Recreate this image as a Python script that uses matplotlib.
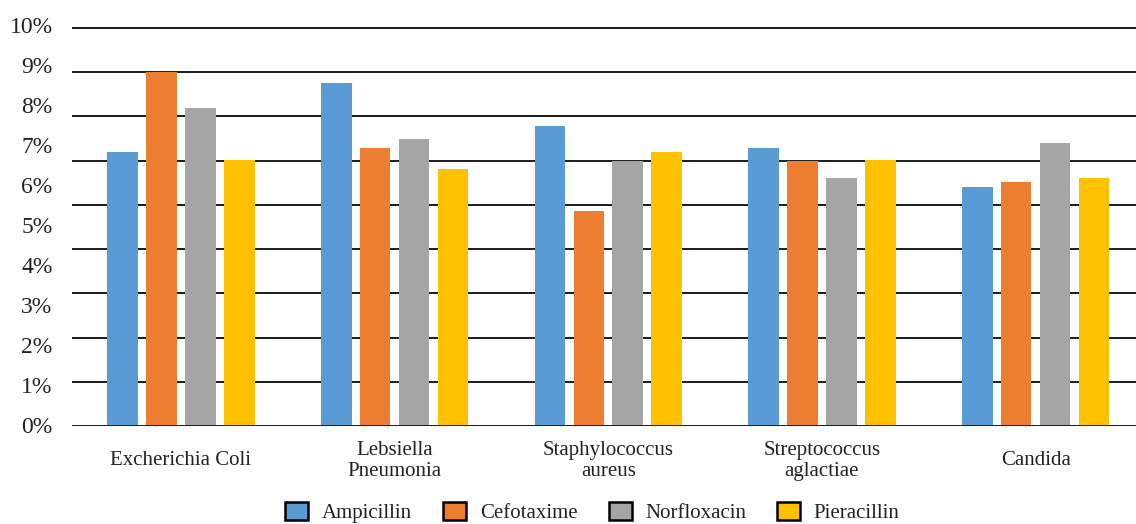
import numpy as np
import matplotlib
matplotlib.use("Agg")
import matplotlib.pyplot as plt

# Resistance rates per organism (%)
organisms = ["Excherichia Coli", "Lebsiella\nPneumonia", "Staphylococcus\naureus",
             "Streptococcus\naglactiae", "Candida"]
ampicillin = [6.83, 8.56, 7.48, 6.93, 5.96]
cefotaxime = [8.83, 6.93, 5.35, 6.60, 6.08]
norfloxacin = [7.93, 7.15, 6.60, 6.17, 7.05]
pieracillin = [6.63, 6.39, 6.83, 6.63, 6.18]

drugs = ["Ampicillin", "Cefotaxime", "Norfloxacin", "Pieracillin"]
colors = ["#5B9BD5", "#ED7D31", "#A5A5A5", "#FFC000"]
y_ticks = list(range(0, 11))
grid_lines = list(range(0, 10))

plt.rcParams["font.family"] = ["Liberation Serif", "DejaVu Serif"]

fig = plt.figure(figsize=(11.36, 5.24), dpi=100)
rect = [72 / 1136, 98 / 524, 1064 / 1136, 406 / 524]

# horizontal rules live on their own scale behind the bars
gax = fig.add_axes(rect)
gax.set_ylim(0, 9.181)
gax.set_yticks(grid_lines)
gax.set_yticklabels([])
gax.set_xticks([])
gax.tick_params(length=0)
gax.grid(axis="y", color="#1a1a1a", linewidth=1.4)
for s in gax.spines.values():
    s.set_visible(False)

ax = fig.add_axes(rect)
ax.patch.set_visible(False)

x = np.arange(len(organisms))
width = 0.143
step = 0.182
series = [ampicillin, cefotaxime, norfloxacin, pieracillin]
for j, (vals, name, c) in enumerate(zip(series, drugs, colors)):
    ax.bar(x + (j - 1.5) * step, vals, width, color=c, label=name, zorder=3)

ax.set_xlim(-0.51, 4.47)
ax.set_ylim(-0.025, 10.125)
ax.set_yticks(y_ticks)
ax.set_yticklabels([f"{t}%" for t in y_ticks], fontsize=17, color="#222222")
ax.set_xticks(x)
ax.set_xticklabels(organisms, fontsize=15, color="#222222", linespacing=1.12)
for lbl in ax.get_xticklabels():
    lbl.set_va("center")
ax.tick_params(axis="x", length=0, pad=25)
ax.tick_params(axis="y", length=0, pad=14)
for s in ax.spines.values():
    s.set_visible(False)

leg = ax.legend(loc="center", bbox_to_anchor=(0.5216, 0.022),
                bbox_transform=fig.transFigure, ncol=4, frameon=False,
                fontsize=15, handlelength=1.1, handleheight=1.0,
                handletextpad=0.65, columnspacing=1.5, borderpad=0)
for h in leg.legend_handles:
    h.set_edgecolor("black")
    h.set_linewidth(1.8)
for t in leg.get_texts():
    t.set_color("#222222")

fig.savefig("out.png", dpi=100)
